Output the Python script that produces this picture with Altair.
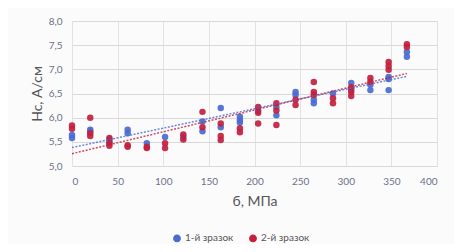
import altair as alt
import pandas as pd

# stress positions (MPa) of each measurement column
stress = [0, 20, 41, 61, 82, 102, 122, 143, 163, 184, 204, 224, 245, 265, 286, 306, 327, 347, 367]

# sample 1 (blue) values per column
s1 = [
    [5.64, 5.58], [5.75, 5.72], [5.55, 5.50], [5.75, 5.68], [5.47], [5.60], [5.60],
    [5.92, 5.72], [6.20, 5.80], [6.02, 5.95, 5.90], [6.15], [6.22, 6.05],
    [6.53, 6.47], [6.37, 6.30], [6.50], [6.72, 6.58], [6.68, 6.57],
    [6.84, 6.80, 6.57], [7.36, 7.26],
]
# sample 2 (red) values per column
s2 = [
    [5.84, 5.77], [6.00, 5.68, 5.62], [5.58, 5.47, 5.42], [5.43, 5.40], [5.40, 5.37],
    [5.47, 5.37], [5.65, 5.55], [6.12, 5.80], [5.88, 5.62, 5.54], [5.78, 5.70],
    [6.22, 6.10, 5.88], [6.30, 6.15, 5.85], [6.37, 6.26], [6.74, 6.53, 6.47],
    [6.40, 6.30], [6.63, 6.53, 6.45], [6.82, 6.74], [7.15, 7.07, 6.99], [7.52, 7.46],
]

series_names = ["1-й зразок", "2-й зразок"]
colors = ["#4a6bd1", "#c2203e"]
x_ticks = [0, 50, 100, 150, 200, 250, 300, 350, 400]
y_ticks = [5.0, 5.5, 6.0, 6.5, 7.0, 7.5, 8.0]

rows = []
for name, vals in zip(series_names, [s1, s2]):
    for xv, col in zip(stress, vals):
        for yv in col:
            rows.append({"x": xv, "y": yv, "series": name})
df = pd.DataFrame(rows)

FONT = "Lato"
color_scale = alt.Scale(domain=series_names, range=colors)

xenc = alt.X("x:Q", scale=alt.Scale(domain=[0, 400], nice=False),
             axis=alt.Axis(values=x_ticks,
                           title="б, МПа", ticks=False, domain=False,
                           labelPadding=10, titlePadding=8, labelOverlap=False,
                           labelFontSize=10, titleFontSize=14,
                           labelColor="#6b7088", titleColor="#555555",
                           titleFontWeight="normal", grid=True,
                           gridColor="#e2e2e2", labelFont=FONT, titleFont=FONT))
yenc = alt.Y("y:Q", scale=alt.Scale(domain=[5, 8], nice=False, zero=False),
             axis=alt.Axis(values=y_ticks,
                           labelExpr="replace(format(datum.value, '.1f'), '.', ',')",
                           title="Нс, А/см", ticks=False, domain=False,
                           labelPadding=10, titlePadding=4, labelOverlap=False,
                           labelFontSize=10, titleFontSize=14,
                           labelColor="#6b7088", titleColor="#555555",
                           titleFontWeight="normal", grid=True,
                           gridColor="#d9d9d9", labelFont=FONT, titleFont=FONT))

points = alt.Chart(df).mark_circle(size=42, opacity=0.92).encode(
    x=xenc, y=yenc,
    color=alt.Color("series:N", scale=color_scale,
                    legend=alt.Legend(title=None, orient="none", direction="horizontal",
                                      legendX=100, legendY=212, symbolType="circle",
                                      symbolSize=40, labelFontSize=10, labelFont=FONT,
                                      labelColor="#555555", columnPadding=12,
                                      symbolOpacity=1, labelOffset=3)),
    order=alt.Order("series:N"),
)

trend = alt.Chart(df).transform_regression(
    "x", "y", groupby=["series"]
).mark_line(strokeDash=[2, 1.5], strokeWidth=1.5, opacity=0.8).encode(
    x=xenc, y=yenc,
    color=alt.Color("series:N", scale=color_scale, legend=None),
)

chart = alt.layer(points, trend).properties(
    width=365, height=145,
    autosize=alt.AutoSizeParams(type="none"),
    padding={"left": 64, "top": 13, "right": 17, "bottom": 78},
    background="#fbfbfc",
).configure_view(stroke=None)

chart.save("out.html", embed_options={"renderer": "svg", "actions": False})
